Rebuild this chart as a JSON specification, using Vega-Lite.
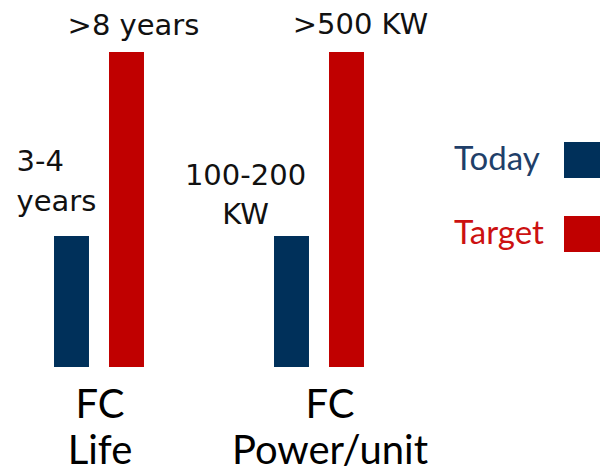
{
  "$schema": "https://vega.github.io/schema/vega-lite/v6.json",
  "autosize": "none",
  "padding": {"left": 0, "top": 0, "right": 182, "bottom": 108},
  "width": 418,
  "height": 367,
  "background": "white",
  "config": {"view": {"stroke": null}},
  "data": {
    "values": [
      {"group": "FC|Life", "series": "Today", "value": 41.6, "note": "3-4\nyears"},
      {"group": "FC|Life", "series": "Target", "value": 100, "note": ">8 years"},
      {"group": "FC|Power/unit", "series": "Today", "value": 41.6, "note": "100-200\nKW"},
      {"group": "FC|Power/unit", "series": "Target", "value": 100, "note": ">500 KW"}
    ]
  },
  "encoding": {
    "x": {
      "field": "group",
      "type": "nominal",
      "sort": ["FC|Life", "FC|Power/unit"],
      "scale": {"paddingInner": 0.591, "paddingOuter": 0.2455},
      "axis": {
        "title": null,
        "domain": false,
        "ticks": false,
        "tickSize": 0,
        "labelAngle": 0,
        "labelExpr": "split(datum.value, '|')",
        "labelFont": "Lato",
        "labelFontSize": 40,
        "labelLineHeight": 46,
        "labelColor": "#000000",
        "labelPadding": 18,
        "labelBaseline": "top",
        "labelLimit": 0,
        "labelOverlap": false,
        "labelOffset": {"condition": {"test": "datum.value === 'FC|Power/unit'", "value": 11}, "value": 1}
      }
    },
    "xOffset": {
      "field": "series",
      "type": "nominal",
      "sort": ["Today", "Target"],
      "scale": {"paddingInner": 0.364, "paddingOuter": 0}
    },
    "y": {
      "field": "value",
      "type": "quantitative",
      "scale": {"domain": [0, 116.5], "nice": false, "zero": true},
      "axis": null
    }
  },
  "layer": [
    {
      "mark": {"type": "bar"},
      "encoding": {
        "color": {
          "field": "series",
          "type": "nominal",
          "sort": ["Today", "Target"],
          "scale": {"domain": ["Today", "Target"], "range": ["#00305A", "#C00000"]},
          "legend": {
            "title": null,
            "orient": "none",
            "legendX": 564,
            "legendY": 142,
            "padding": 0,
            "symbolType": "square",
            "symbolSize": 1296,
            "symbolStrokeWidth": 0,
            "symbolOpacity": 1,
            "labelFont": "Lato",
            "labelFontSize": 33,
            "labelOffset": -146,
            "labelAlign": "left",
            "labelLimit": 0,
            "rowPadding": 38,
            "encode": {"labels": {"update": {"fill": {"signal": "datum.value === 'Today' ? '#1F3F69' : '#CC1111'"}}}}
          }
        }
      }
    },
    {
      "transform": [{"filter": "datum.group === 'FC|Life' && datum.series === 'Target'"}],
      "mark": {"type": "text", "font": "DejaVu Sans", "fontSize": 29, "color": "#111111", "align": "center", "baseline": "alphabetic", "dx": 7, "dy": -17},
      "encoding": {"text": {"field": "note"}}
    },
    {
      "transform": [{"filter": "datum.group === 'FC|Power/unit' && datum.series === 'Target'"}],
      "mark": {"type": "text", "font": "DejaVu Sans", "fontSize": 29, "color": "#111111", "align": "center", "baseline": "alphabetic", "dx": 14, "dy": -18},
      "encoding": {"text": {"field": "note"}}
    },
    {
      "transform": [{"filter": "datum.group === 'FC|Life' && datum.series === 'Today'"}],
      "mark": {"type": "text", "font": "DejaVu Sans", "fontSize": 29, "color": "#111111", "align": "left", "baseline": "alphabetic", "lineBreak": "\n", "lineHeight": 40, "dx": -55, "dy": -65},
      "encoding": {"text": {"field": "note"}}
    },
    {
      "transform": [{"filter": "datum.group === 'FC|Power/unit' && datum.series === 'Today'"}],
      "mark": {"type": "text", "font": "DejaVu Sans", "fontSize": 29, "color": "#111111", "align": "center", "baseline": "alphabetic", "lineBreak": "\n", "lineHeight": 39, "dx": -46, "dy": -51},
      "encoding": {"text": {"field": "note"}}
    }
  ]
}
